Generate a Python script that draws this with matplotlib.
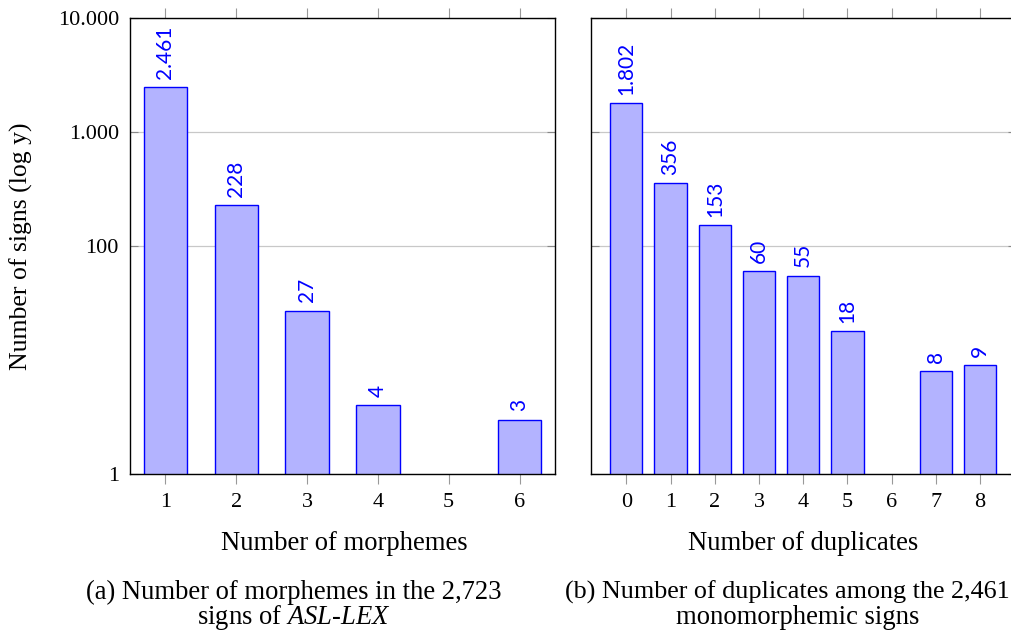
import matplotlib
matplotlib.use("Agg")
import matplotlib.pyplot as plt

# data
morphemes = [1, 2, 3, 4, 5, 6]
morph_counts = [2461, 228, 27, 4, 0, 3]
duplicates = [0, 1, 2, 3, 4, 5, 6, 7, 8]
dup_counts = [1802, 356, 153, 60, 55, 18, 0, 8, 9]
yticks = [1, 100, 1000, 10000]
ytick_labels = ['1', '100', '1.000', '10.000']

plt.rcParams['font.family'] = 'Liberation Serif'
plt.rcParams['mathtext.fontset'] = 'custom'
plt.rcParams['mathtext.rm'] = 'Liberation Serif'
plt.rcParams['mathtext.it'] = 'Liberation Serif:italic'

fill = '#b3b3ff'
edge = '#0000ff'
W, H = 1012, 637
fs = 19.2

fig = plt.figure(figsize=(W / 100, H / 100), dpi=100)
ax1 = fig.add_axes([130 / W, 1 - 474 / H, 425 / W, 456 / H])
ax2 = fig.add_axes([590.5 / W, 1 - 474 / H, 425.5 / W, 456 / H])


def fmt(v):
    return f"{v:,}".replace(",", ".")


def draw(ax, xs, ys, width, xlim):
    ax.set_yscale('log')
    xs_nz = [x for x, y in zip(xs, ys) if y > 0]
    ys_nz = [y for y in ys if y > 0]
    ax.bar(xs_nz, ys_nz, width=width, color=fill, edgecolor=edge, linewidth=1.0, zorder=2)
    for x, y in zip(xs_nz, ys_nz):
        ax.annotate(fmt(y), (x, y), xytext=(0, 6), textcoords='offset points',
                    rotation=90, ha='center', va='bottom', color=edge,
                    fontsize=15, family='Lato')
    ax.set_xlim(*xlim)
    ax.set_ylim(1, 10000)
    ax.set_xticks(xs)
    ax.set_xticklabels([str(x) for x in xs], fontsize=16)
    ax.set_yticks(yticks)
    ax.minorticks_off()
    ax.yaxis.grid(True, color='#c8c8c8', linewidth=0.9, zorder=0)
    ax.set_axisbelow(True)
    ax.tick_params(axis='x', which='both', direction='out', top=True, bottom=True,
                   length=7, width=0.8, color='#999999', pad=7)
    ax.tick_params(axis='y', which='both', direction='in', left=True, right=True,
                   length=6, width=0.8, color='#888888', pad=8)
    for s in ax.spines.values():
        s.set_linewidth(1.0)
        s.set_color('black')


draw(ax1, morphemes, morph_counts, 0.61, (0.5, 6.5))
draw(ax2, duplicates, dup_counts, 0.73, (-0.81, 8.81))

ax1.set_yticklabels(ytick_labels, fontsize=16)
ax2.set_yticklabels([])

fig.text(21 / W, 1 - 246 / H, 'Number of signs (log y)', rotation=90,
         ha='center', va='center', fontsize=18.5)
fig.text(344 / W, 1 - 543 / H, 'Number of morphemes', ha='center', va='center', fontsize=fs)
fig.text(803 / W, 1 - 543 / H, 'Number of duplicates', ha='center', va='center', fontsize=fs)

fig.text(294 / W, 1 - 592 / H, '(a) Number of morphemes in the 2,723',
         ha='center', va='center', fontsize=fs)
fig.text(294 / W, 1 - 618 / H, r'signs of $\mathit{ASL}$-$\mathit{LEX}$',
         ha='center', va='center', fontsize=fs)
fig.text(787 / W, 1 - 592 / H, '(b) Number of duplicates among the 2,461',
         ha='center', va='center', fontsize=18.8)
fig.text(798 / W, 1 - 618 / H, 'monomorphemic signs',
         ha='center', va='center', fontsize=fs)

fig.savefig('out.png', dpi=100)
